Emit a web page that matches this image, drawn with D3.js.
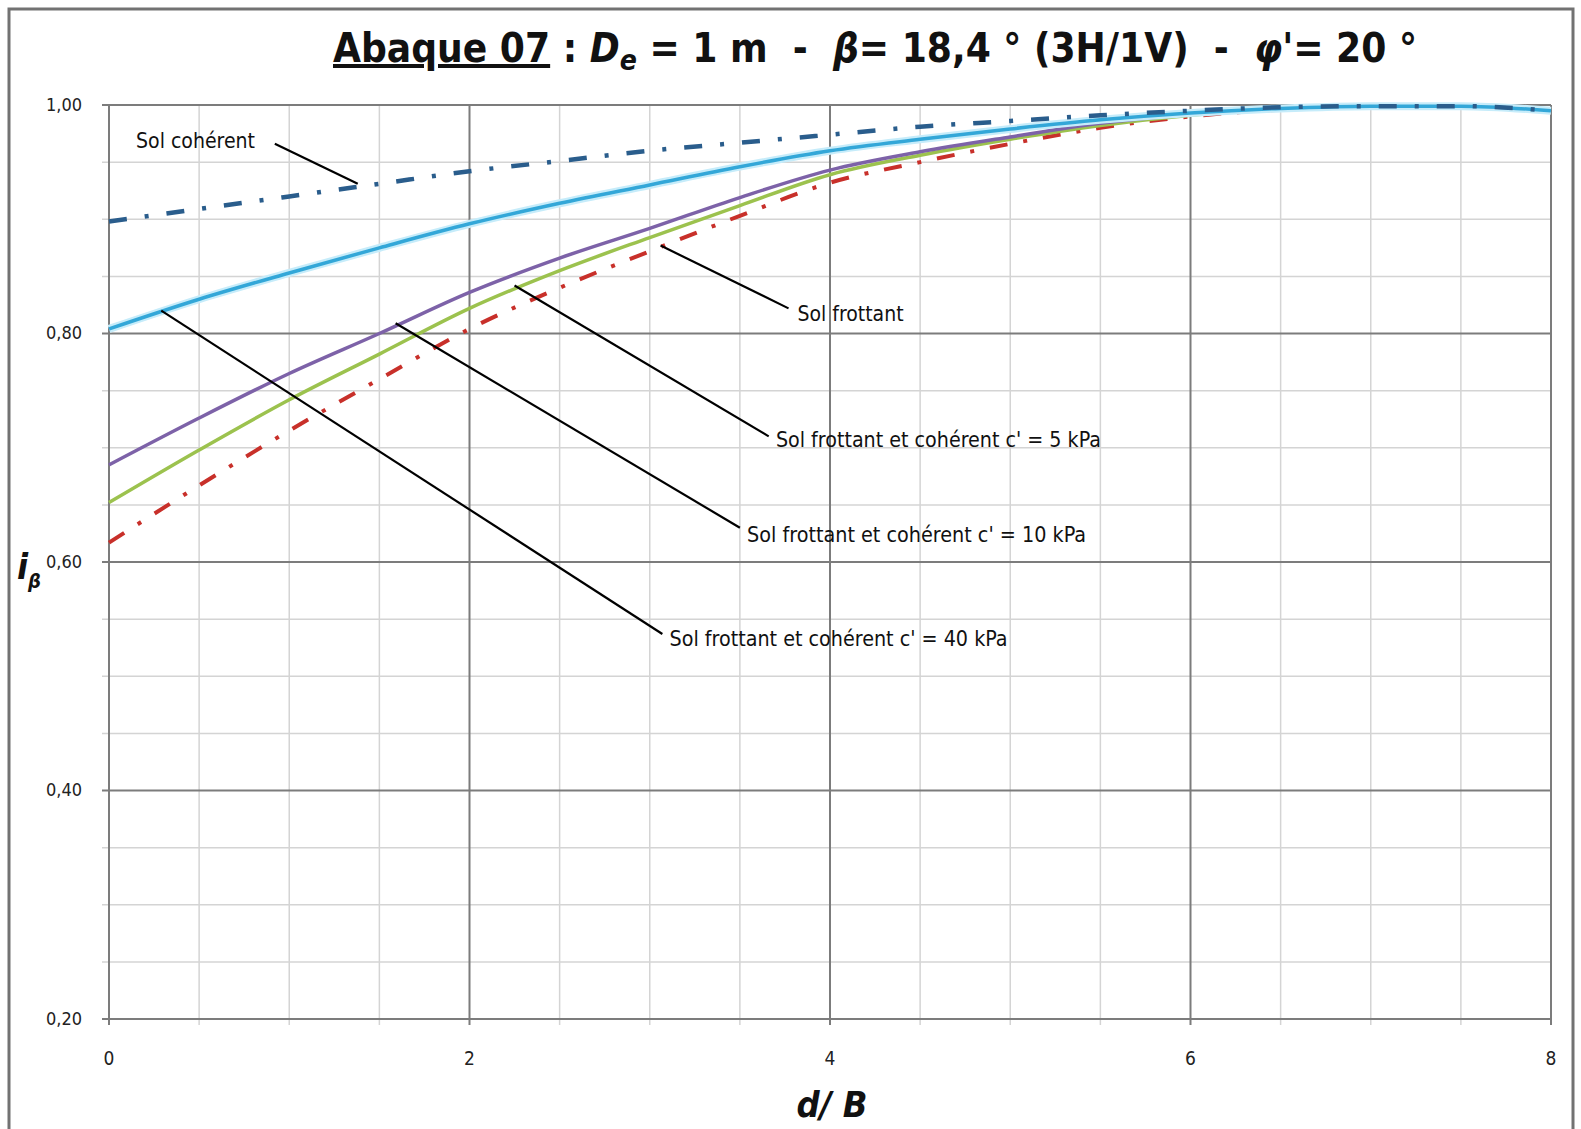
<!DOCTYPE html>
<html><head><meta charset="utf-8">
<script src="https://cdn.jsdelivr.net/npm/d3@7"></script>
<style>
html,body{margin:0;padding:0;background:#fff;}
svg{display:block;}
</style></head>
<body>
<svg id="chart" width="1581" height="1129"></svg>
<script>
// ---- Data ----
const xValues      = [0, 0.5, 1, 1.5, 2, 2.5, 3, 3.5, 4, 4.5, 5, 5.5, 6, 6.5, 7, 7.5, 8];
const solCoherent  = [0.898,0.909,0.920,0.931,0.942,0.951,0.960,0.967,0.974,0.981,0.986,0.991,0.995,0.998,0.999,0.999,0.995];
const coh40kPa     = [0.804,0.830,0.853,0.875,0.896,0.914,0.930,0.946,0.960,0.970,0.979,0.987,0.993,0.997,0.999,0.999,0.995];
const coh10kPa     = [0.685,0.726,0.765,0.800,0.836,0.866,0.892,0.919,0.943,0.959,0.972,0.984,0.992,0.997,0.999,0.999,0.995];
const coh5kPa      = [0.652,0.698,0.742,0.782,0.822,0.855,0.884,0.912,0.939,0.956,0.970,0.982,0.991,0.997,0.999,0.999,0.995];
const solFrottant  = [0.617,0.667,0.715,0.760,0.804,0.840,0.872,0.903,0.932,0.950,0.966,0.980,0.990,0.996,0.999,0.999,0.995];
const xTicks       = [0, 2, 4, 6, 8];
const yTicks       = [0.20, 0.40, 0.60, 0.80, 1.00];
const yTickLabels  = ["0,20", "0,40", "0,60", "0,80", "1,00"];

const labels = [
  {text: "Sol cohérent", lx: 0.15, ly: 0.969, sx: 0.92, sy: 0.966, ax: 1.38, ay: 0.931, w: 119},
  {text: "Sol frottant", lx: 3.82, ly: 0.818, sx: 3.77, sy: 0.822, ax: 3.06, ay: 0.877, w: 106},
  {text: "Sol frottant et cohérent c' = 5 kPa", lx: 3.70, ly: 0.707, sx: 3.66, sy: 0.710, ax: 2.25, ay: 0.842, w: 325},
  {text: "Sol frottant et cohérent c' = 10 kPa", lx: 3.54, ly: 0.624, sx: 3.50, sy: 0.630, ax: 1.59, ay: 0.809, w: 339},
  {text: "Sol frottant et cohérent c' = 40 kPa", lx: 3.11, ly: 0.533, sx: 3.07, sy: 0.537, ax: 0.29, ay: 0.820, w: 338}
];

const series = [
  {vals: solFrottant, color: "#c8302a", width: 4, dash: "18,16,4,16"},
  {vals: coh5kPa,     color: "#9cc24e", width: 3.5, dash: null},
  {vals: coh10kPa,    color: "#7d62a8", width: 3.5, dash: null},
  {vals: coh40kPa,    color: "#33a7d8", width: 3.5, dash: null, halo: "#c6ecfa"},
  {vals: solCoherent, color: "#2a5d8c", width: 4.5, dash: "18,18,4,18"}
];

// ---- Layout ----
const svg = d3.select("#chart");
const x = d3.scaleLinear().domain([0, 8]).range([109, 1551]);
const y = d3.scaleLinear().domain([0.2, 1.0]).range([1019, 105]);
const narrow = "'Liberation Sans Narrow','DejaVu Sans Condensed','Arial Narrow',sans-serif";

// outer frame
svg.append("rect").attr("x", 9).attr("y", 9).attr("width", 1564).attr("height", 1150)
  .attr("fill", "#fff").attr("stroke", "#727272").attr("stroke-width", 3);

const g = svg.append("g");

// minor grid
const xMinor = d3.range(0, 8.01, 0.5).filter(v => v % 2 !== 0);
const yMinor = d3.range(0.2, 1.001, 0.05).map(v => +v.toFixed(2)).filter(v => Math.round(v * 100) % 20 !== 0);
g.selectAll(".xmin").data(xMinor).join("line")
  .attr("x1", d => x(d)).attr("x2", d => x(d)).attr("y1", y(1)).attr("y2", y(0.2) + 6)
  .attr("stroke", "#d4d4d4").attr("stroke-width", 1.5);
g.selectAll(".ymin").data(yMinor).join("line")
  .attr("x1", x(0) - 7).attr("x2", x(8)).attr("y1", d => y(d)).attr("y2", d => y(d))
  .attr("stroke", "#d4d4d4").attr("stroke-width", 1.5);
// major grid
g.selectAll(".xmaj").data(xTicks).join("line")
  .attr("x1", d => x(d)).attr("x2", d => x(d)).attr("y1", y(1)).attr("y2", y(0.2) + 6)
  .attr("stroke", "#7c7c7c").attr("stroke-width", 2);
g.selectAll(".ymaj").data(yTicks).join("line")
  .attr("x1", x(0) - 7).attr("x2", x(8)).attr("y1", d => y(d)).attr("y2", d => y(d))
  .attr("stroke", "#7c7c7c").attr("stroke-width", 2);

// tick labels
g.selectAll(".ylab").data(yTicks).join("text")
  .attr("x", 82).attr("y", d => y(d)).attr("dy", "0.33em")
  .attr("text-anchor", "end").attr("font-family", narrow).attr("font-size", 18).attr("fill", "#222")
  .text((d, i) => yTickLabels[i]);
g.selectAll(".xlab").data(xTicks).join("text")
  .attr("x", d => x(d)).attr("y", 1058).attr("dy", "0.35em")
  .attr("text-anchor", "middle").attr("font-family", narrow).attr("font-size", 19).attr("fill", "#222")
  .text(d => d);

// curves
const line = d3.line().x((d, i) => x(xValues[i])).y(d => y(d)).curve(d3.curveMonotoneX);
series.forEach(s => {
  if (s.halo) {
    g.append("path").attr("d", line(s.vals)).attr("fill", "none")
      .attr("stroke", s.halo).attr("stroke-width", 8).attr("stroke-linejoin", "round");
  }
  const p = g.append("path").attr("d", line(s.vals)).attr("fill", "none")
    .attr("stroke", s.color).attr("stroke-width", s.width).attr("stroke-linejoin", "round");
  if (s.dash) p.attr("stroke-dasharray", s.dash);
});

// annotations
labels.forEach(l => {
  g.append("line").attr("x1", x(l.sx)).attr("y1", y(l.sy)).attr("x2", x(l.ax)).attr("y2", y(l.ay))
    .attr("stroke", "#000").attr("stroke-width", 2.2);
  g.append("text").attr("x", x(l.lx)).attr("y", y(l.ly)).attr("dy", "0.35em")
    .attr("font-family", narrow).attr("font-size", 22).attr("fill", "#111")
    .attr("textLength", l.w).attr("lengthAdjust", "spacingAndGlyphs")
    .text(l.text);
});

// title
const NB = "\u00A0";
const title = svg.append("text").attr("x", 333).attr("y", 62)
  .attr("font-family", narrow).attr("font-weight", "bold").attr("font-size", 40).attr("fill", "#111");
title.append("tspan").attr("text-decoration", "underline").text("Abaque 07");
title.append("tspan").text(NB + ":" + NB);
title.append("tspan").attr("font-style", "italic").text("D");
title.append("tspan").attr("font-style", "italic").attr("font-size", 28).attr("dy", 8).text("e");
title.append("tspan").attr("dy", -8).text(NB + "=" + NB + "1" + NB + "m" + NB + NB + "-" + NB + NB);
title.append("tspan").attr("font-style", "italic").text("β");
title.append("tspan").text("=" + NB + "18,4" + NB + "°" + NB + "(3H/1V)" + NB + NB + "-" + NB + NB);
title.append("tspan").attr("font-style", "italic").text("φ'");
title.append("tspan").text("=" + NB + "20" + NB + "°");
title.attr("textLength", 1084).attr("lengthAdjust", "spacingAndGlyphs");

// axis titles
const xt = svg.append("text").attr("x", 832).attr("y", 1117).attr("text-anchor", "middle")
  .attr("font-family", narrow).attr("font-weight", "bold").attr("font-style", "italic")
  .attr("font-size", 36).attr("fill", "#111");
xt.text("d/" + NB + "B");
const yt = svg.append("text").attr("x", 17).attr("y", 579)
  .attr("font-family", narrow).attr("font-weight", "bold").attr("font-style", "italic")
  .attr("font-size", 36).attr("fill", "#111");
yt.append("tspan").text("i");
yt.append("tspan").attr("font-size", 20).attr("dy", 9).text("β");
</script>
</body></html>
